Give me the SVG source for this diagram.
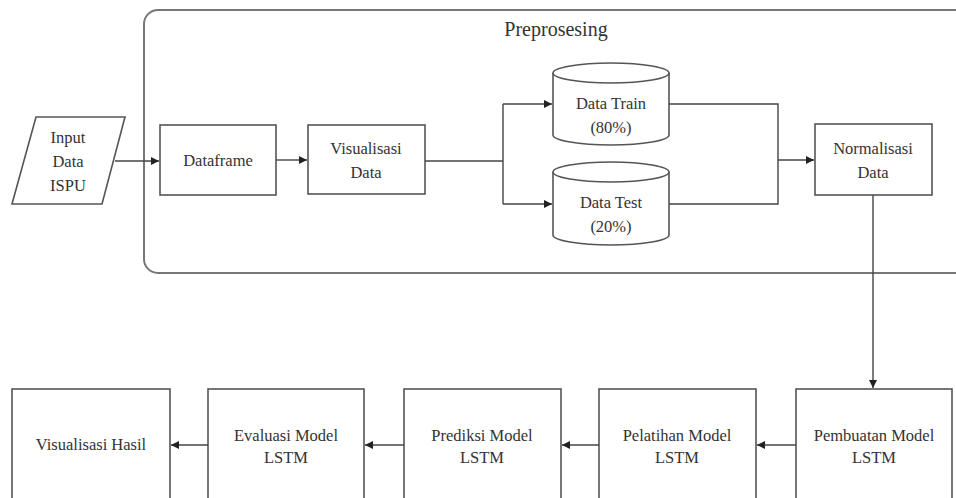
<svg xmlns="http://www.w3.org/2000/svg" width="956" height="498" viewBox="0 0 956 498">
<style>
.box{fill:#fff;stroke:#555;stroke-width:1.6}
.t{font-family:"Liberation Serif","Times New Roman",serif;font-size:16.5px;fill:#333;text-anchor:middle}
.title{font-size:20px}
.c{fill:none;stroke:#444;stroke-width:1.4}
</style>
<defs>
<marker id="ah" markerWidth="10" markerHeight="10" refX="8" refY="4" orient="auto" markerUnits="userSpaceOnUse">
<path d="M0,0 L8,4 L0,8 Z" fill="#222"/>
</marker>
</defs>
<rect width="956" height="498" fill="#fff"/>
<g id="preprosesing">
<rect x="144" y="10" width="830" height="263" rx="14" fill="none" stroke="#777" stroke-width="2"/>
<text class="t title" x="556" y="36">Preprosesing</text>
</g>
<g id="input">
<polygon class="box" points="36,117 125,117 102,204 12,204"/>
<text class="t" x="68" y="143">Input</text>
<text class="t" x="68" y="167">Data</text>
<text class="t" x="68" y="191">ISPU</text>
</g>
<g id="dataframe">
<rect class="box" x="160" y="125" width="116" height="70"/>
<text class="t" x="218" y="166">Dataframe</text>
</g>
<g id="visualisasi">
<rect class="box" x="308" y="125" width="117" height="69"/>
<text class="t" x="366" y="154">Visualisasi</text>
<text class="t" x="366" y="178">Data</text>
</g>
<g id="datatrain">
<path class="box" d="M553,73 L553,135 A58,10 0 0 0 669,135 L669,73"/>
<ellipse class="box" cx="611" cy="73" rx="58" ry="10"/>
<text class="t" x="611" y="109">Data Train</text>
<text class="t" x="611" y="133">(80%)</text>
</g>
<g id="datatest">
<path class="box" d="M553,172 L553,235 A58,10 0 0 0 669,235 L669,172"/>
<ellipse class="box" cx="611" cy="172" rx="58" ry="10"/>
<text class="t" x="611" y="208">Data Test</text>
<text class="t" x="611" y="232">(20%)</text>
</g>
<g id="normalisasi">
<rect class="box" x="815" y="124" width="117" height="71"/>
<text class="t" x="873" y="154">Normalisasi</text>
<text class="t" x="873" y="178">Data</text>
</g>
<g id="pembuatan">
<rect class="box" x="796" y="389" width="156" height="125"/>
<text class="t" x="874" y="441">Pembuatan Model</text>
<text class="t" x="874" y="463">LSTM</text>
</g>
<g id="pelatihan">
<rect class="box" x="599" y="389" width="157" height="125"/>
<text class="t" x="677" y="441">Pelatihan Model</text>
<text class="t" x="677" y="463">LSTM</text>
</g>
<g id="prediksi">
<rect class="box" x="404" y="389" width="157" height="125"/>
<text class="t" x="482" y="441">Prediksi Model</text>
<text class="t" x="482" y="463">LSTM</text>
</g>
<g id="evaluasi">
<rect class="box" x="208" y="389" width="156" height="125"/>
<text class="t" x="286" y="441">Evaluasi Model</text>
<text class="t" x="286" y="463">LSTM</text>
</g>
<g id="hasil">
<rect class="box" x="12" y="389" width="158" height="125"/>
<text class="t" x="91" y="450">Visualisasi Hasil</text>
</g>
<g id="connectors">
<path class="c" d="M115,161 L159,161" marker-end="url(#ah)"/>
<path class="c" d="M276,160 L307,160" marker-end="url(#ah)"/>
<path class="c" d="M425,161 L503,161"/>
<path class="c" d="M503,104 L503,204"/>
<path class="c" d="M503,104 L552,104" marker-end="url(#ah)"/>
<path class="c" d="M503,204 L552,204" marker-end="url(#ah)"/>
<path class="c" d="M669,104 L778,104 L778,204 L669,204"/>
<path class="c" d="M778,160 L814,160" marker-end="url(#ah)"/>
<path class="c" d="M873,195 L873,388" marker-end="url(#ah)"/>
<path class="c" d="M796,445 L757,445" marker-end="url(#ah)"/>
<path class="c" d="M599,445 L562,445" marker-end="url(#ah)"/>
<path class="c" d="M404,445 L365,445" marker-end="url(#ah)"/>
<path class="c" d="M208,445 L171,445" marker-end="url(#ah)"/>
</g>
</svg>
